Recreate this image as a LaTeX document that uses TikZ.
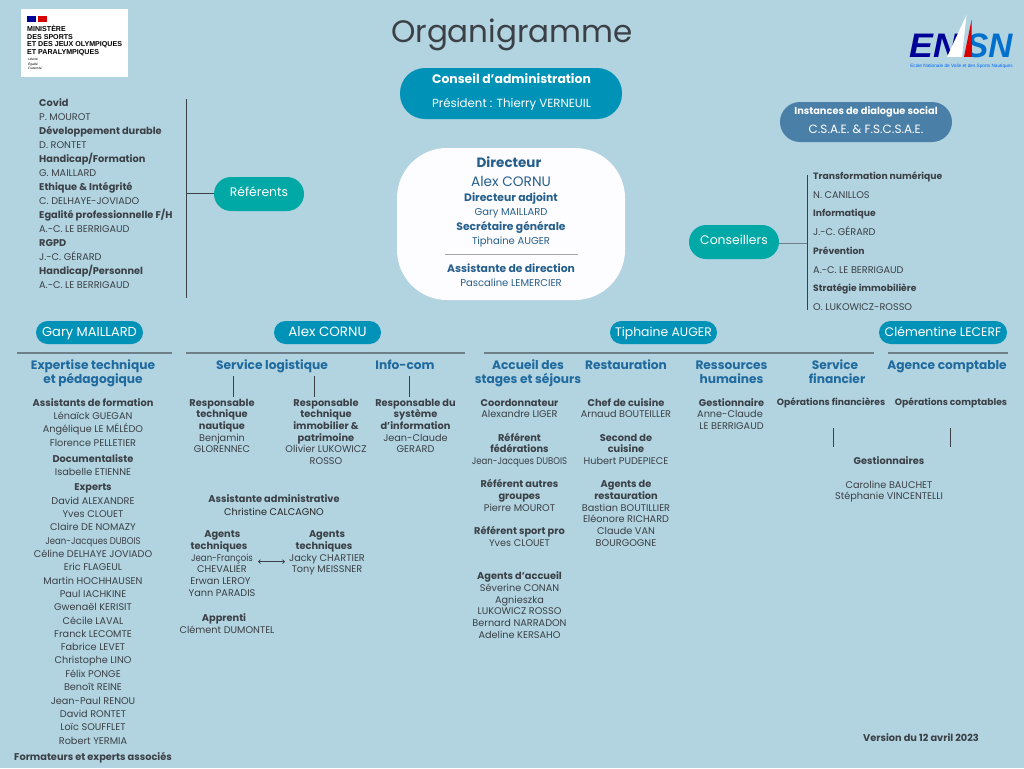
\documentclass[tikz,border=0pt]{standalone}
\usepackage{fontspec}
\usepackage{graphicx}
\setmainfont{Poppins}
\newfontfamily\liberfont{Liberation Sans}
\newcommand\serre[1]{\scalebox{.88}[1]{#1}}
\usetikzlibrary{arrows.meta}
\definecolor{fondbleu}{HTML}{B2D3E0}
\definecolor{sarcelle}{HTML}{00A9A5}
\definecolor{bleucanard}{HTML}{0093B7}
\definecolor{bleugris}{HTML}{4A7FA7}
\definecolor{encre}{HTML}{3A4046}
\definecolor{bleutitre}{HTML}{1F6A9E}
\definecolor{bleudir}{HTML}{265F8C}
\definecolor{filet}{HTML}{6F7F88}
\tikzset{
  nom/.style={anchor=base,yshift=-3.8pt,inner sep=0pt,text=encre,font=\fontsize{9.7}{11}\selectfont},
  tete/.style={nom,font=\fontsize{9.8}{11}\bfseries\selectfont},
  ctete/.style={tete,font=\fontsize{9.2}{11}\bfseries\selectfont},
  sect/.style={nom,text=bleutitre,font=\fontsize{12.2}{14}\bfseries\selectfont,yshift=-1pt},
  dnom/.style={nom,text=bleudir,font=\fontsize{10}{12}\selectfont},
  dtete/.style={tete,text=bleudir,font=\fontsize{10.8}{12}\bfseries\selectfont},
  pill/.style={rounded corners=11.5pt,minimum width=107pt,minimum height=23pt,inner sep=0pt,
    fill=bleucanard,text=white,font=\fontsize{12.4}{14}\selectfont,text height=10pt,text depth=1.4pt},
  tpill/.style={rounded corners=17pt,minimum width=90pt,minimum height=34pt,inner sep=0pt,
    fill=sarcelle,text=white,font=\fontsize{12.4}{14}\selectfont,text height=8pt,text depth=3.4pt},
  barre/.style={draw=encre,line width=1pt},
  regle/.style={draw=filet,line width=1.8pt},
}
\begin{document}
\begin{tikzpicture}[x=1pt,y=-1pt]
  \useasboundingbox (0,0) rectangle (1024,768);
  \fill[fondbleu] (0,0) rectangle (1024,768);

  % titre
  \node[text=encre,font=\fontsize{31}{36}\selectfont,inner sep=0pt] (titre) at (512,34.5) {Organigramme};

  % logo ministere
  \fill[white] (21,9) rectangle (128,77);
  \fill[blue!60!black] (27,16) rectangle (36,22);
  \fill[red!85!black] (38,16) rectangle (47,22);
  \foreach \yy/\txt [count=\i] in {29/MINISTÈRE,36.7/DES SPORTS,44.3/ET DES JEUX OLYMPIQUES,51.8/ET PARALYMPIQUES}
    \node[anchor=base west,yshift=-2.5pt,inner sep=0pt,font=\liberfont\fontsize{7.1}{8}\bfseries\selectfont,text=black] (min\i) at (27,\yy) {\txt};
  \foreach \yy/\txt [count=\i] in {59/Liberté,64/Égalité,69/Fraternité}
    \node[anchor=base west,yshift=-1pt,inner sep=0pt,font=\liberfont\fontsize{3.2}{4}\itshape\selectfont,text=black] (dev\i) at (28,\yy) {\txt};

  % logo ensn
  \node[anchor=base west,inner sep=0pt,xscale=1.05,text=blue!60!black,font=\liberfont\fontsize{34}{34}\bfseries\itshape\selectfont] (ensna) at (909,58) {EN};
  \node[anchor=base west,inner sep=0pt,xscale=.98,text=blue!45!cyan!80!black,font=\liberfont\fontsize{34}{34}\bfseries\itshape\selectfont] (ensnb) at (966,58) {SN};
  \fill[white] (966.5,15) -- (947,57) -- (962,57) -- cycle;
  \fill[red!85!black] (971.5,20) -- (964,57) -- (972,57) -- cycle;
  \node[inner sep=0pt,text=blue!60!cyan,font=\liberfont\fontsize{4.7}{5}\selectfont] (ensnc) at (961.5,66) {Ecole Nationale de Voile et des Sports Nautiques};

  % conseil
  \node[pill,rounded corners=25pt,minimum width=222pt,minimum height=51pt] (conseil) at (511,93.5) {};
  \node[tete,text=white,font=\fontsize{12.4}{14}\bfseries\selectfont] (conseila) at (511.5,79.5) {Conseil d'administration};
  \node[nom,text=white,font=\fontsize{11.8}{14}\selectfont] (conseilb) at (511.5,103.5) {Président : Thierry VERNEUIL};

  % instances
  \node[pill,fill=bleugris,rounded corners=20pt,minimum width=172pt,minimum height=40pt] (inst) at (866,122) {};
  \node[tete,text=white] (insta) at (866,110.5) {Instances de dialogue social};
  \node[nom,text=white,font=\fontsize{12}{14}\selectfont] (instb) at (866,130) {C.S.A.E. \& F.S.C.S.A.E.};

  % direction
  \node[fill=white!80!blue!4,rounded corners=50pt,minimum width=228pt,minimum height=152pt,inner sep=0pt] (dir) at (511,224) {};
  \node[dtete,font=\fontsize{13.5}{16}\bfseries\selectfont] (dira) at (509,163.5) {Directeur};
  \node[dnom,font=\fontsize{13.7}{16}\selectfont] (dirb) at (511,182.5) {Alex CORNU};
  \foreach \yy/\st/\txt [count=\i] in {198/dtete/Directeur adjoint,212/dnom/Gary MAILLARD,227/dtete/Secrétaire générale,241/dnom/Tiphaine AUGER,269/dtete/Assistante de direction,283/dnom/Pascaline LEMERCIER}
    \node[\st] (dir\i) at (511,\yy) {\txt};
  \coordinate (dirl) at (445,254);
  \coordinate (dirr) at (578,254);
  \draw[gray!70,line width=0.7pt] (dirl) -- (dirr);

  % referents
  \node[tpill] (ref) at (259,194) {Référents};
  \coordinate (reft) at (186,99);
  \coordinate (refb) at (186,298);
  \coordinate (refm) at (186,193.3);
  \draw[barre] (reft) -- (refb);
  \draw[barre] (ref.west |- refm) -- (refm);
  \foreach \yy/\st/\txt [count=\i] in {102.5/tete/Covid,116.5/nom/P. MOUROT,130.5/tete/Développement durable,144.5/nom/D. RONTET,158.5/tete/{Handicap/Formation},172.5/nom/G. MAILLARD,186.5/tete/Ethique \& Intégrité,200.5/nom/C. DELHAYE-JOVIADO,214.5/tete/{Egalité professionnelle F/H},228.5/nom/A.-C. LE BERRIGAUD,242.5/tete/RGPD,256.5/nom/J.-C. GÉRARD,270.5/tete/{Handicap/Personnel},284.5/nom/A.-C. LE BERRIGAUD}
    \node[\st,anchor=base west] (rf\i) at (39,\yy) {\txt};

  % conseillers
  \node[tpill] (cons) at (734,242) {Conseillers};
  \coordinate (const) at (807,175);
  \coordinate (consb) at (807,310);
  \coordinate (consm) at (807,243.5);
  \draw[barre] (const) -- (consb);
  \draw[regle] (cons.east |- consm) -- (consm);
  \foreach \yy/\st/\txt [count=\i] in {175.5/ctete/Transformation numérique,194.7/nom/N. CANILLOS,213/ctete/Informatique,231.7/nom/J.-C. GÉRARD,250.7/ctete/Prévention,269.3/nom/A.-C. LE BERRIGAUD,287.7/ctete/Stratégie immobilière,306.7/nom/O. LUKOWICZ-ROSSO}
    \node[\st,anchor=base west] (cs\i) at (813,\yy) {\txt};

  % responsables
  \node[pill,font=\fontsize{13}{15}\selectfont] (gary) at (89.5,332.5) {Gary MAILLARD};
  \node[pill,font=\fontsize{13.4}{15}\selectfont] (alex) at (327.5,332.5) {Alex CORNU};
  \node[pill] (tiph) at (663.5,332.5) {Tiphaine AUGER};
  \node[pill,minimum width=128pt] (clem) at (943,332.5) {Clémentine LECERF};

  % filets
  \foreach \xa/\xb [count=\i] in {17/172,186/465,484/874,888/1008}{
    \coordinate (rga\i) at (\xa,353);
    \coordinate (rgb\i) at (\xb,353);
    \draw[regle] (rga\i) -- (rgb\i);
  }
  \foreach \xx/\ya/\yb [count=\i] in {233.5/376/397,314.5/376/397,409.5/376/397,833.5/428/447,950.5/428/447}{
    \coordinate (tca\i) at (\xx,\ya);
    \coordinate (tcb\i) at (\xx,\yb);
    \draw[barre] (tca\i) -- (tcb\i);
  }

  % services
  \foreach \xx/\yy/\txt [count=\i] in {93/365/Expertise technique,93/379/et pédagogique,272/365/Service logistique,405/365/Info-com,528/365/Accueil des,528/379/stages et séjours,626/365/Restauration,731.5/365/Ressources,731.5/379/humaines,835/365/Service,837/379/financier,947/365/Agence comptable}
    \node[sect] (sv\i) at (\xx,\yy) {\txt};

  % colonne expertise
  \foreach \yy/\st/\txt [count=\i] in {402.3/tete/Assistants de formation,415.3/nom/Lénaïck GUEGAN,428.3/nom/Angélique LE MÉLÉDO,442.3/nom/Florence PELLETIER,458.3/tete/Documentaliste,471.3/nom/Isabelle ETIENNE,486.3/tete/Experts,500.3/nom/David ALEXANDRE,513.3/nom/Yves CLOUET,526.3/nom/Claire DE NOMAZY,540.3/nom/\serre{Jean-Jacques DUBOIS},553.3/nom/Céline DELHAYE JOVIADO,566.3/nom/Eric FLAGEUL,580.3/nom/Martin HOCHHAUSEN,593.3/nom/Paul IACHKINE,606.3/nom/Gwenaël KERISIT,620.3/nom/Cécile LAVAL,633.3/nom/Franck LECOMTE,647/nom/Fabrice LEVET,660/nom/Christophe LINO,674/nom/Félix PONGE,687/nom/Benoît REINE,701/nom/Jean-Paul RENOU,714/nom/David RONTET,727/nom/Loïc SOUFFLET,741/nom/Robert YERMIA,757/tete/Formateurs et experts associés}
    \node[\st] (ex\i) at (93,\yy) {\txt};

  % colonnes alex
  \foreach \xx/\yy/\st/\txt [count=\i] in {222/402.3/tete/Responsable,222/413.3/tete/technique,222/425.3/tete/nautique,222/437.3/nom/Benjamin,222/448.3/nom/GLORENNEC,326/402.3/tete/Responsable,326/413.3/tete/technique,326/425.3/tete/immobilier \&,326/437.3/tete/patrimoine,326/448.3/nom/Olivier LUKOWICZ,326/460.3/nom/ROSSO,415.5/402.3/tete/Responsable du,415.5/413.3/tete/système,415.5/425.3/tete/d'information,415.5/437.3/nom/Jean-Claude,415.5/448.3/nom/GERARD,274/498.3/tete/Assistante administrative,222.3/533.7/tete/Agents,219/545.7/tete/techniques,222/557.7/nom/\serre{Jean-François},222/568.7/nom/CHEVALIER,220.5/580.7/nom/Erwan LEROY,222/592.7/nom/Yann PARADIS,327/533.7/tete/Agents,324/545.7/tete/techniques,327/557.7/nom/Jacky CHARTIER,327/568.7/nom/Tony MEISSNER,224/617.7/tete/Apprenti,227/629.3/nom/Clément DUMONTEL}
    \node[\st] (al\i) at (\xx,\yy) {\txt};
  \node[nom,text=black!85] (calc) at (274,511.5) {Christine CALCAGNO};
  \coordinate (flg) at (258,561.7);
  \coordinate (fld) at (285,561.7);
  \draw[{Straight Barb[length=2pt,width=4pt]}-{Straight Barb[length=2pt,width=4pt]},encre,line width=0.7pt] (flg) -- (fld);

  % colonne accueil
  \foreach \yy/\st/\txt [count=\i] in {402.3/tete/Coordonnateur,413.3/nom/Alexandre LIGER,437.3/tete/Référent,448.3/tete/fédérations,460.3/nom/\serre{Jean-Jacques DUBOIS},483.3/tete/Référent autres,495.7/tete/groupes,507.3/nom/Pierre MOUROT,530.7/tete/Référent sport pro,542.3/nom/Yves CLOUET,575.7/tete/Agents d'accueil,587.7/nom/Séverine CONAN,600/nom/Agnieszka,610.3/nom/LUKOWICZ ROSSO,622.3/nom/Bernard NARRADON,634.3/nom/Adeline KERSAHO}
    \node[\st] (ac\i) at (519.5,\yy) {\txt};

  % colonne restauration
  \foreach \yy/\st/\txt [count=\i] in {402.3/tete/Chef de cuisine,413.3/nom/Arnaud BOUTEILLER,437.3/tete/Second de,448.3/tete/cuisine,460.3/nom/Hubert PUDEPIECE,483.3/tete/Agents de,495.7/tete/restauration,507.3/nom/Bastian BOUTILLIER,518.3/nom/Eléonore RICHARD,530.7/nom/Claude VAN,542.3/nom/BOURGOGNE}
    \node[\st] (rs\i) at (626,\yy) {\txt};

  % reste
  \foreach \xx/\yy/\st/\txt [count=\i] in {731.5/402.3/tete/Gestionnaire,730/413.3/nom/Anne-Claude,731.5/425.3/nom/LE BERRIGAUD,831/401.7/ctete/Opérations financières,951/401.7/ctete/Opérations comptables,889/460.3/tete/Gestionnaires,889/484.3/nom/Caroline BAUCHET,889/495.7/nom/Stéphanie VINCENTELLI,921/738/tete/Version du 12 avril 2023}
    \node[\st] (rr\i) at (\xx,\yy) {\txt};
\end{tikzpicture}
\end{document}
